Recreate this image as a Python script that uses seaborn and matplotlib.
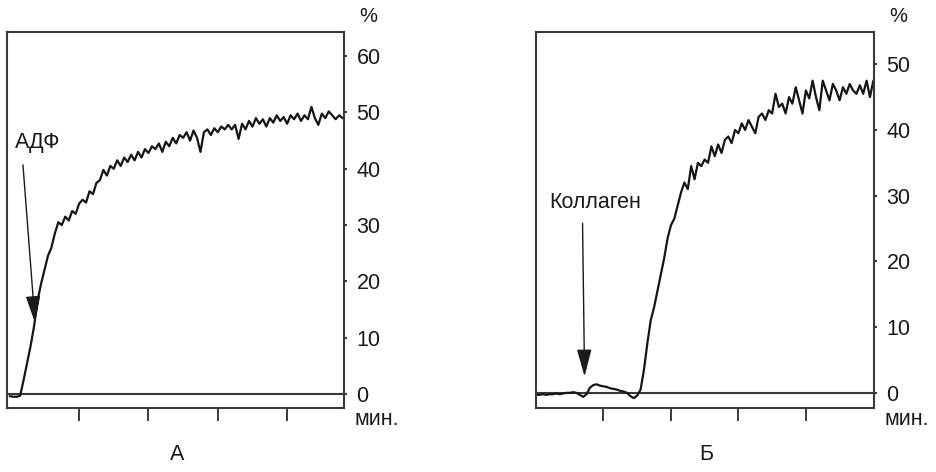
import matplotlib
matplotlib.use("Agg")
import matplotlib.pyplot as plt
import seaborn as sns
import pandas as pd

# ---- data ----
adp_time = [0.00, 0.05, 0.10, 0.15, 0.20, 0.25, 0.30, 0.35, 0.40, 0.45,
            0.50, 0.55, 0.60, 0.65, 0.70, 0.75, 0.80, 0.85, 0.90, 0.95,
            1.00, 1.05, 1.10, 1.15, 1.20, 1.25, 1.30, 1.35, 1.40, 1.45,
            1.50, 1.55, 1.60, 1.65, 1.70, 1.75, 1.80, 1.85, 1.90, 1.95,
            2.00, 2.05, 2.10, 2.15, 2.20, 2.25, 2.30, 2.35, 2.40, 2.45,
            2.50, 2.55, 2.60, 2.65, 2.70, 2.75, 2.80, 2.85, 2.90, 2.95,
            3.00, 3.05, 3.10, 3.15, 3.20, 3.25, 3.30, 3.35, 3.40, 3.45,
            3.50, 3.55, 3.60, 3.65, 3.70, 3.75, 3.80, 3.85, 3.90, 3.95,
            4.00, 4.05, 4.10, 4.15, 4.20, 4.25, 4.30, 4.35, 4.40, 4.45,
            4.50, 4.55, 4.60, 4.65, 4.70, 4.75, 4.80]
adp_value = [-0.4, -0.5, -0.5, -0.3, 2.5, 5.5, 8.5, 12.0, 16.5, 19.5,
             22.0, 24.5, 26.0, 28.5, 30.5, 30.0, 31.5, 30.8, 32.5, 32.0,
             33.8, 34.5, 34.0, 36.0, 35.5, 37.5, 38.0, 39.8, 38.8, 40.5,
             40.0, 41.5, 40.5, 42.0, 41.2, 42.5, 41.5, 43.0, 42.0, 43.5,
             42.8, 44.0, 43.5, 44.5, 43.0, 44.8, 44.0, 45.5, 44.5, 46.0,
             45.5, 46.5, 45.0, 46.8, 45.5, 43.0, 46.5, 47.0, 46.0, 47.2,
             46.5, 47.5, 47.0, 47.8, 47.0, 47.8, 45.3, 48.0, 47.0, 48.5,
             47.5, 49.0, 48.0, 48.8, 47.5, 49.0, 48.2, 49.5, 48.5, 49.2,
             48.0, 49.5, 48.8, 49.8, 48.5, 49.5, 48.8, 51.0, 49.0, 47.8,
             49.8, 49.0, 50.2, 49.5, 48.8, 49.5, 49.0]

col_time = [0.00, 0.05, 0.10, 0.15, 0.20, 0.25, 0.30, 0.35, 0.40, 0.45,
            0.50, 0.55, 0.60, 0.65, 0.70, 0.75, 0.80, 0.85, 0.90, 0.95,
            1.00, 1.05, 1.10, 1.15, 1.20, 1.25, 1.30, 1.35, 1.40, 1.45,
            1.50, 1.55, 1.60, 1.65, 1.70, 1.75, 1.80, 1.85, 1.90, 1.95,
            2.00, 2.05, 2.10, 2.15, 2.20, 2.25, 2.30, 2.35, 2.40, 2.45,
            2.50, 2.55, 2.60, 2.65, 2.70, 2.75, 2.80, 2.85, 2.90, 2.95,
            3.00, 3.05, 3.10, 3.15, 3.20, 3.25, 3.30, 3.35, 3.40, 3.45,
            3.50, 3.55, 3.60, 3.65, 3.70, 3.75, 3.80, 3.85, 3.90, 3.95,
            4.00, 4.05, 4.10, 4.15, 4.20, 4.25, 4.30, 4.35, 4.40, 4.45,
            4.50, 4.55, 4.60, 4.65, 4.70, 4.75, 4.80, 4.85, 4.90, 4.95,
            5.00]
col_value = [-0.3, -0.3, -0.2, -0.3, -0.2, -0.2, -0.1, -0.2, -0.1, 0.0,
             0.0, 0.1, 0.0, -0.3, -0.6, -0.2, 0.8, 1.2, 1.3, 1.1,
             1.0, 0.9, 0.7, 0.6, 0.5, 0.3, 0.2, 0.0, -0.5, -0.8,
             -0.4, 0.5, 3.5, 7.5, 11.0, 13.0, 15.5, 18.0, 20.5, 23.5,
             25.5, 26.5, 28.5, 30.5, 32.0, 31.0, 34.5, 32.5, 35.0, 34.5,
             35.5, 35.0, 37.5, 36.0, 37.8, 36.5, 38.5, 39.0, 38.0, 40.0,
             39.5, 41.0, 40.0, 41.5, 40.5, 39.5, 42.0, 42.5, 41.5, 43.0,
             42.5, 45.5, 43.5, 44.0, 42.5, 45.0, 44.0, 46.5, 44.5, 42.5,
             46.0, 44.8, 47.5, 45.0, 43.0, 47.5, 46.0, 44.5, 47.0, 46.0,
             44.5, 46.5, 45.5, 47.0, 46.0, 45.5, 46.8, 45.5, 47.5, 45.0,
             47.5]

adp_yticks = [0, 10, 20, 30, 40, 50, 60]
col_yticks = [0, 10, 20, 30, 40, 50]
x_ticks = [1, 2, 3, 4]
panel_labels = ["А", "Б"]
agonists = ["АДФ", "Коллаген"]

# ---- style ----
sns.set_style("white")
plt.rcParams["font.family"] = ["Liberation Sans", "DejaVu Sans"]

fig = plt.figure(figsize=(9.36, 4.72), dpi=100)
axA = fig.add_axes([7 / 936, 1 - 408 / 472, 337 / 936, 376 / 472])
axB = fig.add_axes([536 / 936, 1 - 408 / 472, 338 / 936, 376 / 472])

spine_col = "#3a3a3a"
line_col = "#151515"
text_col = "#1a1a1a"
fs = 15.5

dfA = pd.DataFrame({"t": adp_time, "v": adp_value})
dfB = pd.DataFrame({"t": col_time, "v": col_value})

sns.lineplot(data=dfA, x="t", y="v", ax=axA, color=line_col, lw=1.6)
sns.lineplot(data=dfB, x="t", y="v", ax=axB, color=line_col, lw=1.6)

settings = [
    (axA, (-0.04, 4.82), (-2.5, 64.3), adp_yticks),
    (axB, (0.0, 5.01), (-2.3, 54.9), col_yticks),
]
for ax, xl, yl, yt in settings:
    ax.set_xlim(*xl)
    ax.set_ylim(*yl)
    ax.axhline(0, color=spine_col, lw=1.5, zorder=1)
    for s in ax.spines.values():
        s.set_color(spine_col)
        s.set_linewidth(1.5)
        s.set_visible(True)
    ax.set_xticks(x_ticks)
    ax.set_xticklabels([])
    ax.tick_params(axis="x", bottom=True, direction="out", length=9,
                   width=1.4, color=spine_col)
    ax.yaxis.tick_right()
    ax.set_yticks(yt)
    ax.tick_params(axis="y", right=True, left=False, direction="out",
                   length=2, width=1.5, color=spine_col, labelsize=fs,
                   pad=7, labelcolor=text_col)
    ax.set_xlabel("")
    ax.set_ylabel("")
    ax.text(1.045, 1.015, "%", transform=ax.transAxes, fontsize=fs - 1,
            ha="left", va="bottom", color=text_col)
    ax.text(1.03, -0.03, "мин.", transform=ax.transAxes, fontsize=fs,
            ha="left", va="center", color=text_col)

# arrows and agonist labels
arrow_style = dict(arrowstyle="-|>,head_length=1.3,head_width=0.35",
                   color=text_col, lw=1.0, mutation_scale=13,
                   shrinkA=0, shrinkB=0)
axA.annotate("", xy=(0.365, 12.6), xytext=(0.19, 40.7), arrowprops=arrow_style)
axA.text(0.08, 44.6, agonists[0], fontsize=fs, ha="left", va="center",
         color=text_col)

axB.annotate("", xy=(0.72, 2.5), xytext=(0.69, 25.8), arrowprops=arrow_style)
axB.text(0.87, 28.9, agonists[1], fontsize=fs, ha="center", va="center",
         color=text_col)

fig.text(177 / 936, 1 - 455 / 472, panel_labels[0], fontsize=fs,
         ha="center", va="center", color=text_col)
fig.text(706 / 936, 1 - 455 / 472, panel_labels[1], fontsize=fs,
         ha="center", va="center", color=text_col)

fig.savefig("out.png", dpi=100)
